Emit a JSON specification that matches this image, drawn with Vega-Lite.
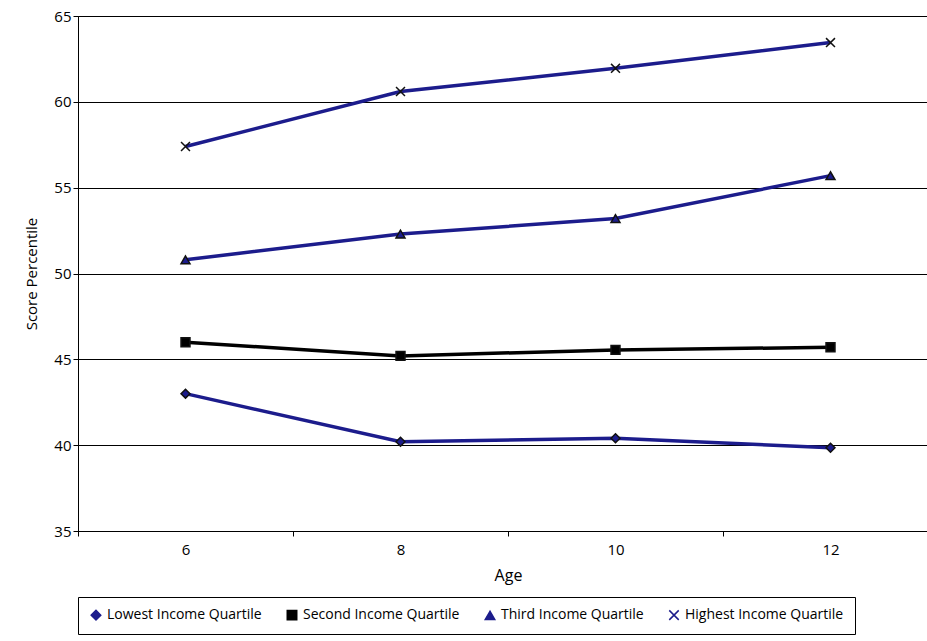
{
"$schema":"https://vega.github.io/schema/vega-lite/v6.json",
"width":860,"height":515,"autosize":"none",
"padding":{"left":78,"top":16,"right":3,"bottom":110},
"background":"white",
"config":{"font":"Open Sans","view":{"stroke":"black","strokeWidth":1}},
"data":{"values":[
{"age":6,"s":"Lowest Income Quartile","v":43.0},
{"age":8,"s":"Lowest Income Quartile","v":40.2},
{"age":10,"s":"Lowest Income Quartile","v":40.4},
{"age":12,"s":"Lowest Income Quartile","v":39.85},
{"age":6,"s":"Second Income Quartile","v":46.0},
{"age":8,"s":"Second Income Quartile","v":45.2},
{"age":10,"s":"Second Income Quartile","v":45.55},
{"age":12,"s":"Second Income Quartile","v":45.7},
{"age":6,"s":"Third Income Quartile","v":50.8},
{"age":8,"s":"Third Income Quartile","v":52.3},
{"age":10,"s":"Third Income Quartile","v":53.2},
{"age":12,"s":"Third Income Quartile","v":55.7},
{"age":6,"s":"Highest Income Quartile","v":57.4},
{"age":8,"s":"Highest Income Quartile","v":60.6},
{"age":10,"s":"Highest Income Quartile","v":61.95},
{"age":12,"s":"Highest Income Quartile","v":63.45}
]},
"encoding":{
"x":{"field":"age","type":"ordinal","scale":{"type":"band","paddingInner":0,"paddingOuter":0},
"axis":{"title":"Age","labelAngle":0,"tickBand":"extent","labelFontSize":15,"titleFontSize":16,"titleFontWeight":"normal","labelColor":"black","titleColor":"black","domainColor":"black","tickColor":"black","labelPadding":6,"titlePadding":10}},
"y":{"field":"v","type":"quantitative","scale":{"domain":[35,65],"nice":false},
"axis":{"title":"Score Percentile","values":[35,40,45,50,55,60,65],"labelFontSize":15,"titleFontSize":15,"titleFontWeight":"normal","gridColor":"black","gridOpacity":1,"labelColor":"black","titleColor":"black","domainColor":"black","tickColor":"black","titlePadding":14}},
"color":{"field":"s","type":"nominal","sort":["Lowest Income Quartile","Second Income Quartile","Third Income Quartile","Highest Income Quartile"],
"scale":{"domain":["Lowest Income Quartile","Second Income Quartile","Third Income Quartile","Highest Income Quartile"],"range":["#1c1c8c","#000000","#1c1c8c","#1c1c8c"]},
"legend":{"title":null,"orient":"bottom","direction":"horizontal","labelFontSize":14,"labelColor":"black","strokeColor":"black","padding":11,"offset":14,"symbolSize":90,"columnPadding":22}},
"shape":{"field":"s","type":"nominal",
"scale":{"domain":["Lowest Income Quartile","Second Income Quartile","Third Income Quartile","Highest Income Quartile"],"range":["diamond","square","triangle-up","M-1,-1L1,1M-1,1L1,-1"]}}
},
"layer":[
{"mark":{"type":"line","strokeWidth":3.5}},
{"mark":{"type":"point","filled":true,"size":80,"opacity":1,"strokeWidth":1.5,"stroke":"#111"}}
]
}
